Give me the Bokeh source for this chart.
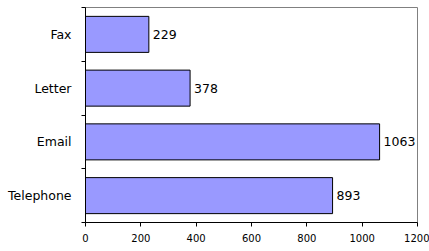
import numpy as np
from bokeh.plotting import figure
from bokeh.models import ColumnDataSource, FixedTicker, Range1d
from bokeh.core.properties import value
from bokeh.embed import file_html
from bokeh.resources import INLINE

categories = ["Fax", "Letter", "Email", "Telephone"]
counts = [229, 378, 1063, 893]
x_ticks = [0, 200, 400, 600, 800, 1000, 1200]

n = len(categories)
ypos = [n - 0.5 - i for i in range(n)]
src = ColumnDataSource(dict(y=ypos, v=counts, txt=[str(c) for c in counts]))

FONT = "DejaVu Sans"
FS = "12.5px"

p = figure(width=429, height=251, output_backend="svg", toolbar_location=None,
           x_range=Range1d(0, 1200), y_range=Range1d(0, n),
           min_border_left=85, min_border_right=12, min_border_top=7, min_border_bottom=29)
p.hbar(y="y", right="v", left=0, height=0.67, source=src,
       fill_color="#9999FF", line_color="black", line_width=1)
p.text(x="v", y="y", text="txt", source=src, x_offset=4, text_baseline="middle",
       text_align="left", text_font=value(FONT), text_font_size=FS, text_color="black")

p.grid.visible = False
p.outline_line_color = "#808080"
p.outline_line_width = 1
p.background_fill_color = "white"
p.border_fill_color = "white"

xa = p.xaxis[0]
xa.ticker = FixedTicker(ticks=x_ticks)
xa.major_tick_in = 0
xa.major_tick_out = 4
xa.minor_tick_line_color = None
xa.axis_line_color = "black"
xa.major_label_text_font = FONT
xa.major_label_text_font_size = "10px"
xa.major_label_text_color = "black"
xa.major_label_standoff = 7

ya = p.yaxis[0]
ya.ticker = FixedTicker(ticks=ypos, minor_ticks=list(range(n + 1)))
ya.major_label_overrides = {y: c for y, c in zip(ypos, categories)}
ya.major_tick_line_color = None
ya.major_tick_out = 4
ya.minor_tick_in = 0
ya.minor_tick_out = 4
ya.minor_tick_line_color = "black"
ya.axis_line_color = "black"
ya.major_label_text_font = FONT
ya.major_label_text_font_size = FS
ya.major_label_text_color = "black"
ya.major_label_standoff = 10

open("out.html", "w").write(file_html(p, INLINE))
